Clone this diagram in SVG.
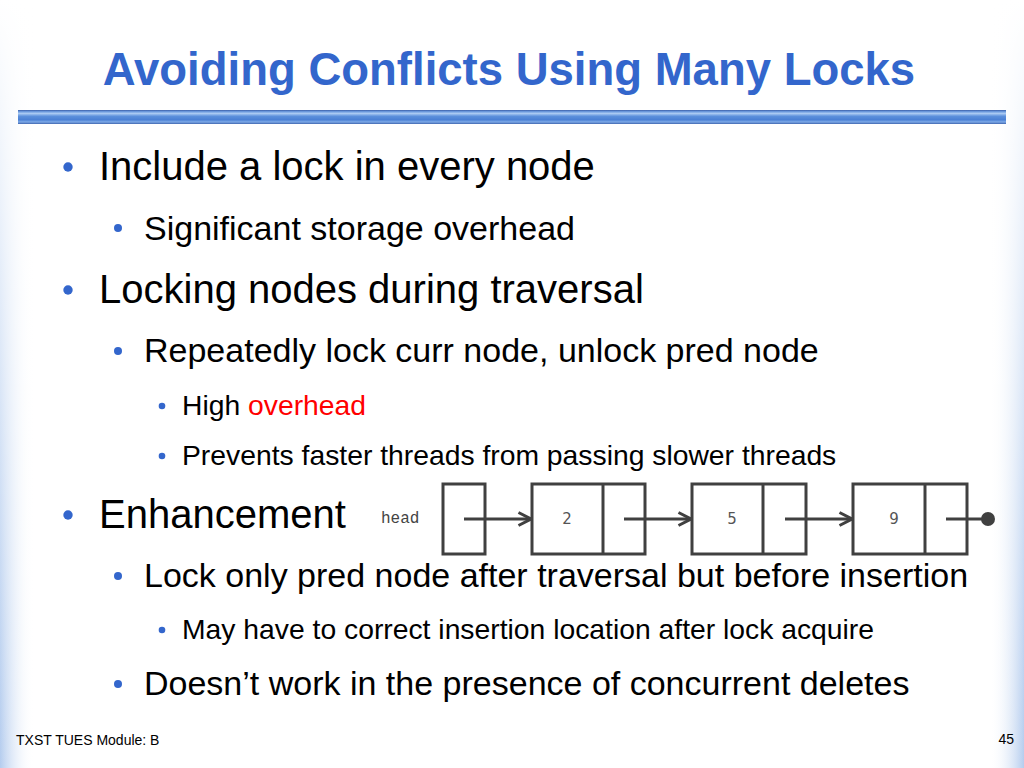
<svg xmlns="http://www.w3.org/2000/svg" width="1024" height="768" viewBox="0 0 1024 768">
  <defs>
    <linearGradient id="barGrad" x1="0" y1="0" x2="0" y2="1">
      <stop offset="0" stop-color="#3a5ea8"/>
      <stop offset="0.12" stop-color="#6f9de0"/>
      <stop offset="0.25" stop-color="#a9c9f2"/>
      <stop offset="0.45" stop-color="#5b8fdc"/>
      <stop offset="0.7" stop-color="#4a80d4"/>
      <stop offset="0.85" stop-color="#7eaae8"/>
      <stop offset="1" stop-color="#3f66b0"/>
    </linearGradient>
    <linearGradient id="leftGrad" x1="0" y1="0" x2="1" y2="0">
      <stop offset="0" stop-color="#b4ccee"/>
      <stop offset="1" stop-color="#ffffff" stop-opacity="0"/>
    </linearGradient>
    <linearGradient id="rightGrad" x1="1" y1="0" x2="0" y2="0">
      <stop offset="0" stop-color="#b4ccee"/>
      <stop offset="1" stop-color="#ffffff" stop-opacity="0"/>
    </linearGradient>
    <linearGradient id="fadeTop" x1="0" y1="0" x2="0" y2="1">
      <stop offset="0" stop-color="#ffffff" stop-opacity="1"/>
      <stop offset="0.15" stop-color="#ffffff" stop-opacity="0.85"/>
      <stop offset="1" stop-color="#ffffff" stop-opacity="0"/>
    </linearGradient>
    <marker id="chev" markerUnits="userSpaceOnUse" markerWidth="16" markerHeight="16" refX="14" refY="8" orient="auto">
      <path d="M1.5,1.5 L14,8 L1.5,14.5" fill="none" stroke="#404040" stroke-width="3"/>
    </marker>
    <style>
      .title { font-family: "Liberation Sans", Arial, sans-serif; font-weight: bold; font-size: 45.5px; fill: #3366CC; }
      .l1 { font-family: "Liberation Sans", Arial, sans-serif; font-size: 40px; fill: #000; }
      .l2 { font-family: "Liberation Sans", Arial, sans-serif; font-size: 34px; fill: #000; }
      .l3 { font-family: "Liberation Sans", Arial, sans-serif; font-size: 28.3px; fill: #000; }
      .red { fill: #FF0000; }
      .bul { fill: #3366CC; }
      .foot { font-family: "Liberation Sans", Arial, sans-serif; font-size: 14px; fill: #000; }
      .box { fill: #ffffff; stroke: #404040; stroke-width: 3; }
      .div { stroke: #404040; stroke-width: 3; }
      .val { font-family: "DejaVu Sans", Verdana, sans-serif; font-size: 15px; fill: #555555; text-anchor: middle; }
      .mono { font-family: "Liberation Mono", "Courier New", monospace; font-size: 16px; fill: #444444; }
      .conn { stroke: #404040; stroke-width: 3; fill: none; }
    </style>
  </defs>

  <!-- background -->
  <rect x="0" y="0" width="1024" height="768" fill="#ffffff"/>
  <rect x="0" y="0" width="34" height="768" fill="url(#leftGrad)"/>
  <rect x="990" y="0" width="34" height="768" fill="url(#rightGrad)"/>
  <rect x="0" y="0" width="34" height="768" fill="url(#fadeTop)"/>
  <rect x="990" y="0" width="34" height="768" fill="url(#fadeTop)"/>

  <!-- title -->
  <text class="title" x="509" y="85" text-anchor="middle">Avoiding Conflicts Using Many Locks</text>
  <rect x="18" y="110" width="988" height="14" fill="url(#barGrad)"/>

  <!-- bullets -->
  <g id="bullets">
    <circle class="bul" cx="68" cy="167" r="4.7"/>
    <text class="l1" x="99" y="180">Include a lock in every node</text>

    <circle class="bul" cx="118" cy="228" r="4"/>
    <text class="l2" x="144" y="240">Significant storage overhead</text>

    <circle class="bul" cx="68" cy="290" r="4.7"/>
    <text class="l1" x="99" y="303">Locking nodes during traversal</text>

    <circle class="bul" cx="118" cy="351" r="4"/>
    <text class="l2" x="144" y="362">Repeatedly lock curr node, unlock pred node</text>

    <circle class="bul" cx="162" cy="406" r="3.3"/>
    <text class="l3" x="182" y="415">High <tspan class="red">overhead</tspan></text>

    <circle class="bul" cx="162" cy="456" r="3.3"/>
    <text class="l3" x="182" y="465">Prevents faster threads from passing slower threads</text>

    <circle class="bul" cx="68" cy="515" r="4.7"/>
    <text class="l1" x="99" y="528">Enhancement</text>

    <circle class="bul" cx="118" cy="576" r="4"/>
    <text class="l2" x="144" y="587">Lock only pred node after traversal but before insertion</text>

    <circle class="bul" cx="162" cy="630" r="3.3"/>
    <text class="l3" x="182" y="639">May have to correct insertion location after lock acquire</text>

    <circle class="bul" cx="118" cy="684" r="4"/>
    <text class="l2" x="144" y="695">Doesn’t work in the presence of concurrent deletes</text>
  </g>

  <!-- linked list nodes -->
  <g id="head">
    <text class="mono" x="381" y="523">head</text>
    <rect class="box" x="443" y="484" width="42" height="70"/>
  </g>
  <g id="node2">
    <rect class="box" x="532" y="484" width="113" height="70"/>
    <line class="div" x1="603" y1="484" x2="603" y2="554"/>
    <text class="val" x="567" y="524">2</text>
  </g>
  <g id="node5">
    <rect class="box" x="692" y="484" width="114" height="70"/>
    <line class="div" x1="763" y1="484" x2="763" y2="554"/>
    <text class="val" x="732" y="524">5</text>
  </g>
  <g id="node9">
    <rect class="box" x="853" y="484" width="114" height="70"/>
    <line class="div" x1="925" y1="484" x2="925" y2="554"/>
    <text class="val" x="894" y="524">9</text>
  </g>

  <!-- connectors -->
  <g id="connectors">
    <line class="conn" x1="464" y1="519" x2="531" y2="519" marker-end="url(#chev)"/>
    <line class="conn" x1="624" y1="519" x2="691" y2="519" marker-end="url(#chev)"/>
    <line class="conn" x1="785" y1="519" x2="852" y2="519" marker-end="url(#chev)"/>
    <line class="conn" x1="946" y1="519" x2="984" y2="519"/>
    <circle cx="988" cy="519" r="7" fill="#404040"/>
  </g>

  <!-- footer -->
  <text class="foot" x="16" y="745">TXST TUES Module: B</text>
  <text class="foot" x="1014" y="744" text-anchor="end">45</text>
</svg>
